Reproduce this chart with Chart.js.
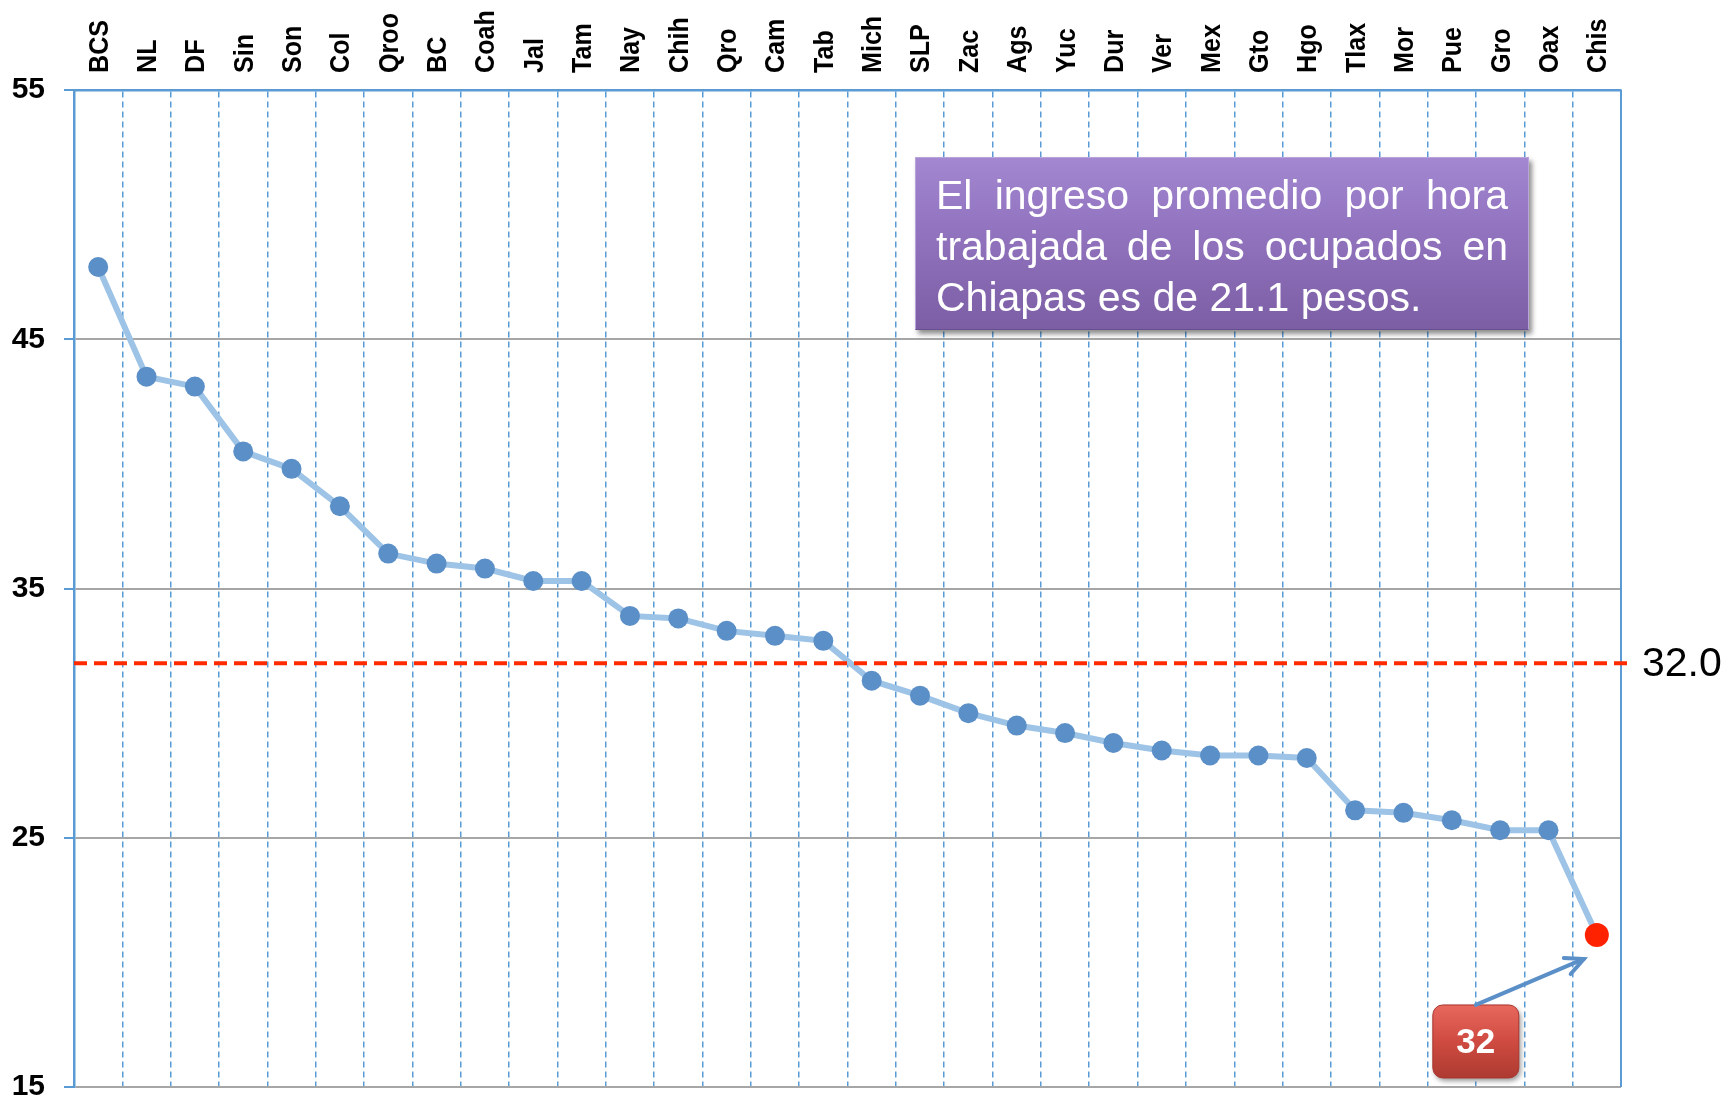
<!DOCTYPE html>
<html>
<head>
<meta charset="utf-8">
<script src="https://cdn.jsdelivr.net/npm/chart.js@4.4.1/dist/chart.umd.min.js"></script>
<style>
  body { margin: 0; background: #fff; }
  #wrap { position: relative; width: 1727px; height: 1101px; }
  #nota {
    position: absolute; left: 915px; top: 157px; width: 614px; height: 173px;
    box-sizing: border-box; padding: 12px 20px 0 20px;
    background: linear-gradient(#a387d0 0%, #9274c0 40%, #7c5ea5 100%);
    border: 1px solid #b9a3dc; border-bottom-color: #6a4f8e;
    box-shadow: 3px 4px 5px rgba(0,0,0,0.45);
    color: #fff; font-family: "Liberation Sans", Arial, sans-serif; font-size: 41px; line-height: 51px;
  }
  #nota div { text-align: justify; text-align-last: justify; white-space: nowrap; }
  #nota div.ult { text-align-last: left; }
</style>
</head>
<body>
<div id="wrap">
  <canvas id="grafica"></canvas>
  <div id="nota">
    <div>El ingreso promedio por hora</div>
    <div>trabajada de los ocupados en</div>
    <div class="ult">Chiapas es de 21.1 pesos.</div>
  </div>
</div>
<script>
// entidades ordenadas de mayor a menor ingreso por hora
const estados = ['BCS', 'NL', 'DF', 'Sin', 'Son', 'Col', 'Qroo', 'BC', 'Coah', 'Jal', 'Tam', 'Nay', 'Chih', 'Qro', 'Cam', 'Tab',
  'Mich', 'SLP', 'Zac', 'Ags', 'Yuc', 'Dur', 'Ver', 'Mex', 'Gto', 'Hgo', 'Tlax', 'Mor', 'Pue', 'Gro', 'Oax', 'Chis'];
const ingreso = [47.9, 43.5, 43.1, 40.5, 39.8, 38.3, 36.4, 36.0, 35.8, 35.3, 35.3, 33.9, 33.8, 33.3, 33.1, 32.9,
  31.3, 30.7, 30.0, 29.5, 29.2, 28.8, 28.5, 28.3, 28.3, 28.2, 26.1, 26.0, 25.7, 25.3, 25.3, 21.1];
const ticksY = [15, 25, 35, 45, 55];
const mediaNacional = 32.0;
const lugarChis = '32';

const azul = '#5b9bd5';
const fuente = '"Liberation Sans", Arial, sans-serif';

const colorPuntos = estados.map(e => e === 'Chis' ? '#ff2200' : '#5b8fc7');
const radioPuntos = estados.map(e => e === 'Chis' ? 12 : 10);

function cajaRedonda(ctx, x, y, w, h, r) {
  ctx.beginPath();
  ctx.moveTo(x + r, y);
  ctx.arcTo(x + w, y, x + w, y + h, r);
  ctx.arcTo(x + w, y + h, x, y + h, r);
  ctx.arcTo(x, y + h, x, y, r);
  ctx.arcTo(x, y, x + w, y, r);
  ctx.closePath();
}

const extras = {
  id: 'extras',
  beforeDatasetsDraw(chart) {
    const {ctx, chartArea: a, scales: {x}} = chart;
    ctx.save();
    // borde derecho
    ctx.strokeStyle = azul; ctx.lineWidth = 2;
    ctx.beginPath(); ctx.moveTo(a.right, a.top); ctx.lineTo(a.right, a.bottom); ctx.stroke();
    // etiquetas de entidades, giradas, arriba del area
    ctx.fillStyle = '#000'; ctx.font = 'bold 27px ' + fuente;
    ctx.textAlign = 'left'; ctx.textBaseline = 'middle';
    estados.forEach((e, i) => {
      ctx.save();
      ctx.translate(x.getPixelForTick(i) + 2, a.top - 17);
      ctx.rotate(-Math.PI / 2);
      ctx.scale(0.93, 1);
      ctx.fillText(e, 0, 0);
      ctx.restore();
    });
    ctx.restore();
  },
  afterDatasetsDraw(chart) {
    const {ctx, chartArea: a, scales: {y}} = chart;
    ctx.save();
    // linea del promedio nacional
    const ym = y.getPixelForValue(mediaNacional);
    ctx.strokeStyle = '#ff2a00'; ctx.lineWidth = 4; ctx.setLineDash([13, 7]);
    ctx.beginPath(); ctx.moveTo(a.left, ym); ctx.lineTo(a.right + 7, ym); ctx.stroke();
    ctx.setLineDash([]);
    ctx.fillStyle = '#000'; ctx.font = '41px ' + fuente;
    ctx.textAlign = 'left'; ctx.textBaseline = 'middle';
    ctx.fillText(mediaNacional.toFixed(1), a.right + 21, ym + 1);

    const meta = chart.getDatasetMeta(0);
    const p = meta.data[estados.indexOf('Chis')];
    // caja roja con el lugar
    const bx = p.x - 164, by = p.y + 70, bw = 86, bh = 73;
    ctx.shadowColor = 'rgba(0,0,0,0.4)'; ctx.shadowBlur = 5; ctx.shadowOffsetX = 2; ctx.shadowOffsetY = 3;
    const g = ctx.createLinearGradient(0, by, 0, by + bh);
    g.addColorStop(0, '#e8685e'); g.addColorStop(0.5, '#cf4b41'); g.addColorStop(1, '#ad3a31');
    ctx.fillStyle = g;
    cajaRedonda(ctx, bx, by, bw, bh, 10);
    ctx.fill();
    ctx.shadowColor = 'transparent';
    ctx.strokeStyle = '#a8352d'; ctx.lineWidth = 1; ctx.stroke();
    ctx.fillStyle = '#fff'; ctx.font = 'bold 35px ' + fuente;
    ctx.textAlign = 'center'; ctx.textBaseline = 'middle';
    ctx.fillText(lugarChis, bx + bw / 2, by + bh / 2 + 2);
    // flecha hacia Chiapas
    const x0 = bx + bw / 2, y0 = by, x1 = p.x - 13, y1 = p.y + 24;
    const ang = Math.atan2(y1 - y0, x1 - x0);
    ctx.strokeStyle = '#5b8fc7'; ctx.lineWidth = 4; ctx.lineCap = 'round';
    ctx.beginPath(); ctx.moveTo(x0, y0); ctx.lineTo(x1, y1); ctx.stroke();
    ctx.beginPath();
    ctx.moveTo(x1 - 20 * Math.cos(ang - 0.45), y1 - 20 * Math.sin(ang - 0.45));
    ctx.lineTo(x1, y1);
    ctx.lineTo(x1 - 20 * Math.cos(ang + 0.45), y1 - 20 * Math.sin(ang + 0.45));
    ctx.stroke();
    ctx.restore();
  }
};

const ctx = document.getElementById('grafica');

new Chart(ctx, {
  type: 'line',
  data: {
    labels: estados,
    datasets: [{
      label: 'Ingreso por hora',
      data: ingreso,
      borderColor: '#9dc3e6',
      borderWidth: 6,
      tension: 0,
      pointBackgroundColor: colorPuntos,
      pointBorderWidth: 0,
      pointRadius: radioPuntos,
      pointHoverRadius: radioPuntos
    }]
  },
  options: {
    responsive: true,
    maintainAspectRatio: false,
    animation: false,
    layout: { padding: { left: 0, right: 106, top: 0, bottom: 14 } },
    plugins: { legend: { display: false }, tooltip: { enabled: false } },
    scales: {
      x: {
        position: 'top',
        offset: true,
        grid: { offset: true, color: azul, lineWidth: 1.5, drawTicks: false },
        border: { color: azul, width: 2.5, dash: [6, 4] },
        ticks: { display: false },
        afterFit(s) { s.height = 90; s.paddingLeft = 0; s.paddingRight = 0; }
      },
      y: {
        min: 15, max: 55,
        afterBuildTicks(s) { s.ticks = ticksY.map(v => ({ value: v })); },
        grid: {
          color: c => c.tick && c.tick.value === 55 ? azul : '#a6a6a6',
          lineWidth: 2, tickLength: 10, tickColor: azul
        },
        border: { color: azul, width: 2.5 },
        ticks: { padding: 19, color: '#000', font: { family: fuente, size: 30, weight: 'bold' } },
        afterFit(s) { s.width = 74; s.paddingTop = 0; s.paddingBottom = 0; }
      }
    }
  },
  plugins: [extras]
});
</script>
</body>
</html>
